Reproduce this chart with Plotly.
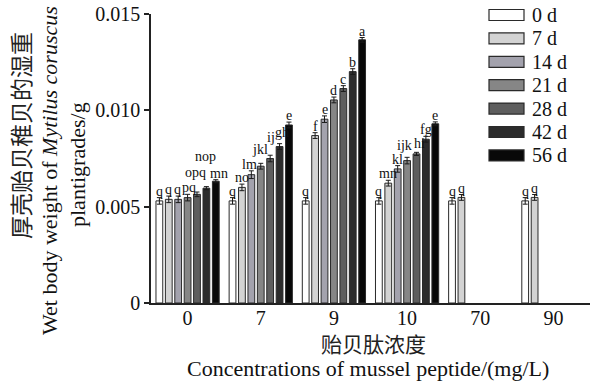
import plotly.graph_objects as go

# ---------------- data ----------------
concentrations = ["0", "7", "9", "10", "70", "90"]
series_names = ["0 d", "7 d", "14 d", "21 d", "28 d", "42 d", "56 d"]

d0 = [0.00530, 0.00530, 0.00530, 0.00530, 0.00530, 0.00530]
d7 = [0.00538, 0.00600, 0.00869, 0.00622, 0.00548, 0.00548]
d14 = [0.00538, 0.00666, 0.00954, 0.00696, None, None]
d21 = [0.00547, 0.00710, 0.01054, 0.00739, None, None]
d28 = [0.00564, 0.00750, 0.01113, 0.00774, None, None]
d42 = [0.00596, 0.00812, 0.01201, 0.00850, None, None]
d56 = [0.00632, 0.00924, 0.01366, 0.00930, None, None]

e0 = [0.00017, 0.00017, 0.00017, 0.00017, 0.00017, 0.00017]
e7 = [0.00017, 0.00017, 0.00015, 0.00015, 0.00015, 0.00015]
e14 = [0.00017, 0.00020, 0.00017, 0.00017, None, None]
e21 = [0.00017, 0.00015, 0.00015, 0.00017, None, None]
e28 = [0.00012, 0.00017, 0.00015, 0.00008, None, None]
e42 = [0.00008, 0.00015, 0.00015, 0.00015, None, None]
e56 = [0.00008, 0.00015, 0.00012, 0.00010, None, None]

l0 = ["q", "q", "q", "q", "q", "q"]
l7 = ["q", "no", "f", "mn", "q", "q"]
l14 = ["q", "lm", "e", "kl", None, None]
l21 = ["pq", "jkl", "d", "ijk", None, None]
l28 = ["opq", "ij", "c", "hi", None, None]
l42 = ["nop", "gh", "b", "fg", None, None]
l56 = ["mn", "e", "a", "e", None, None]

yticks = [0, 0.005, 0.010, 0.015]
ytick_text = ["0", "0.005", "0.010", "0.015"]

values = [d0, d7, d14, d21, d28, d42, d56]
errors = [e0, e7, e14, e21, e28, e42, e56]
letters = [l0, l7, l14, l21, l28, l42, l56]

# ---------------- style ----------------
colors = ["#ffffff", "#d3d3d3", "#a3a2ad", "#868686", "#5e5e5e", "#2c2c2c", "#080808"]
outline = "#2a2a2a"
SERIF = "Liberation Serif, Times New Roman, Noto Sans CJK SC, serif"
W, H = 593, 385
ML, MR, MT, MB = 151, 3, 14, 82
PW, PH = W - ML - MR, H - MT - MB
BARGAP, GROUPGAP = 0.10, 0.28
# label nudges (px) to avoid overlaps: (series, group) -> (dx, lift)
nudge = {
    (2, 0): (-1, 0), (3, 0): (1, 0), (4, 0): (-1, 13), (5, 0): (-1, 24), (6, 0): (3, 0),
    (2, 1): (-2, 0), (3, 1): (-1, 7), (4, 1): (1, 11), (5, 1): (2, 5),
    (3, 3): (-3, 5), (4, 3): (3, 2),
}


def px2x(px):
    return (px - ML) / PW


def px2y(py):
    return (H - MB - py) / PH


xpos = list(range(len(concentrations)))

fig = go.Figure()
for j, name in enumerate(series_names):
    fig.add_trace(go.Bar(
        x=xpos, y=values[j], name=name,
        marker=dict(color=colors[j], line=dict(color=outline, width=1)),
        error_y=dict(type="data", array=errors[j], visible=True,
                     color="#1a1a1a", thickness=1, width=2.5),
        showlegend=False,
    ))

annotations = []
nser = len(series_names)
slot = (1 - BARGAP) / nser
for j in range(nser):
    for i in xpos:
        v = values[j][i]
        lab = letters[j][i]
        if v is None or lab is None:
            continue
        xc = i - (1 - BARGAP) / 2 + (j + 0.5) * slot
        dx, dy = nudge.get((j, i), (0, 0))
        annotations.append(dict(
            x=xc, y=v + (errors[j][i] or 0), xref="x", yref="y",
            text=lab, showarrow=False, yanchor="bottom", xanchor="center",
            yshift=-2 + dy, xshift=dx, borderpad=0,
            font=dict(family=SERIF, size=14, color="#111111"),
        ))

# manual legend (wide swatches like the reference)
shapes = []
row0, pitch = 15, 23.4
for j, name in enumerate(series_names):
    cy = row0 + j * pitch
    shapes.append(dict(type="rect", xref="paper", yref="paper",
                       x0=px2x(489), x1=px2x(524), y0=px2y(cy + 5.5), y1=px2y(cy - 5.5),
                       fillcolor=colors[j], line=dict(color=outline, width=1.2)))
    annotations.append(dict(x=px2x(530), y=px2y(cy), xref="paper", yref="paper",
                            text=name, showarrow=False, xanchor="left", yanchor="middle",
                            font=dict(family=SERIF, size=20, color="#111111")))

# axis titles
annotations += [
    dict(x=px2x(22), y=px2y(136), xref="paper", yref="paper", text="厚壳贻贝稚贝的湿重",
         textangle=-90, showarrow=False, xanchor="center", yanchor="middle",
         font=dict(family=SERIF, size=23, color="#222222")),
    dict(x=px2x(49), y=px2y(171), xref="paper", yref="paper",
         text="Wet body weight of <i>Mytilus coruscus</i>",
         textangle=-90, showarrow=False, xanchor="center", yanchor="middle",
         font=dict(family=SERIF, size=22, color="#111111")),
    dict(x=px2x(77), y=px2y(165), xref="paper", yref="paper", text="plantigrades/g",
         textangle=-90, showarrow=False, xanchor="center", yanchor="middle",
         font=dict(family=SERIF, size=22, color="#111111")),
    dict(x=px2x(373), y=px2y(345), xref="paper", yref="paper", text="贻贝肽浓度",
         showarrow=False, xanchor="center", yanchor="middle",
         font=dict(family=SERIF, size=21, color="#222222")),
    dict(x=px2x(368), y=px2y(368), xref="paper", yref="paper",
         text="Concentrations of mussel peptide/(mg/L)",
         showarrow=False, xanchor="center", yanchor="middle",
         font=dict(family=SERIF, size=22, color="#111111")),
]

fig.update_layout(
    width=W, height=H,
    margin=dict(l=ML, r=MR, t=MT, b=MB),
    paper_bgcolor="white", plot_bgcolor="white",
    barmode="group", bargap=BARGAP, bargroupgap=GROUPGAP,
    showlegend=False,
    annotations=annotations, shapes=shapes,
    font=dict(family=SERIF, color="#111111"),
)
fig.update_xaxes(
    range=[-0.5, len(concentrations) - 0.5],
    tickmode="array", tickvals=xpos, ticktext=concentrations,
    showline=True, linecolor="#222222", linewidth=1.5,
    ticks="", showgrid=False, zeroline=False, ticklabelstandoff=-4,
    tickfont=dict(family=SERIF, size=20, color="#111111"),
)
fig.update_yaxes(
    range=[0, 0.015],
    tickmode="array", tickvals=yticks, ticktext=ytick_text,
    showline=True, linecolor="#222222", linewidth=1.5,
    ticks="outside", ticklen=5, tickwidth=1.5, tickcolor="#222222",
    showgrid=False, zeroline=False,
    tickfont=dict(family=SERIF, size=20, color="#111111"),
)

fig.write_html("out.html")
